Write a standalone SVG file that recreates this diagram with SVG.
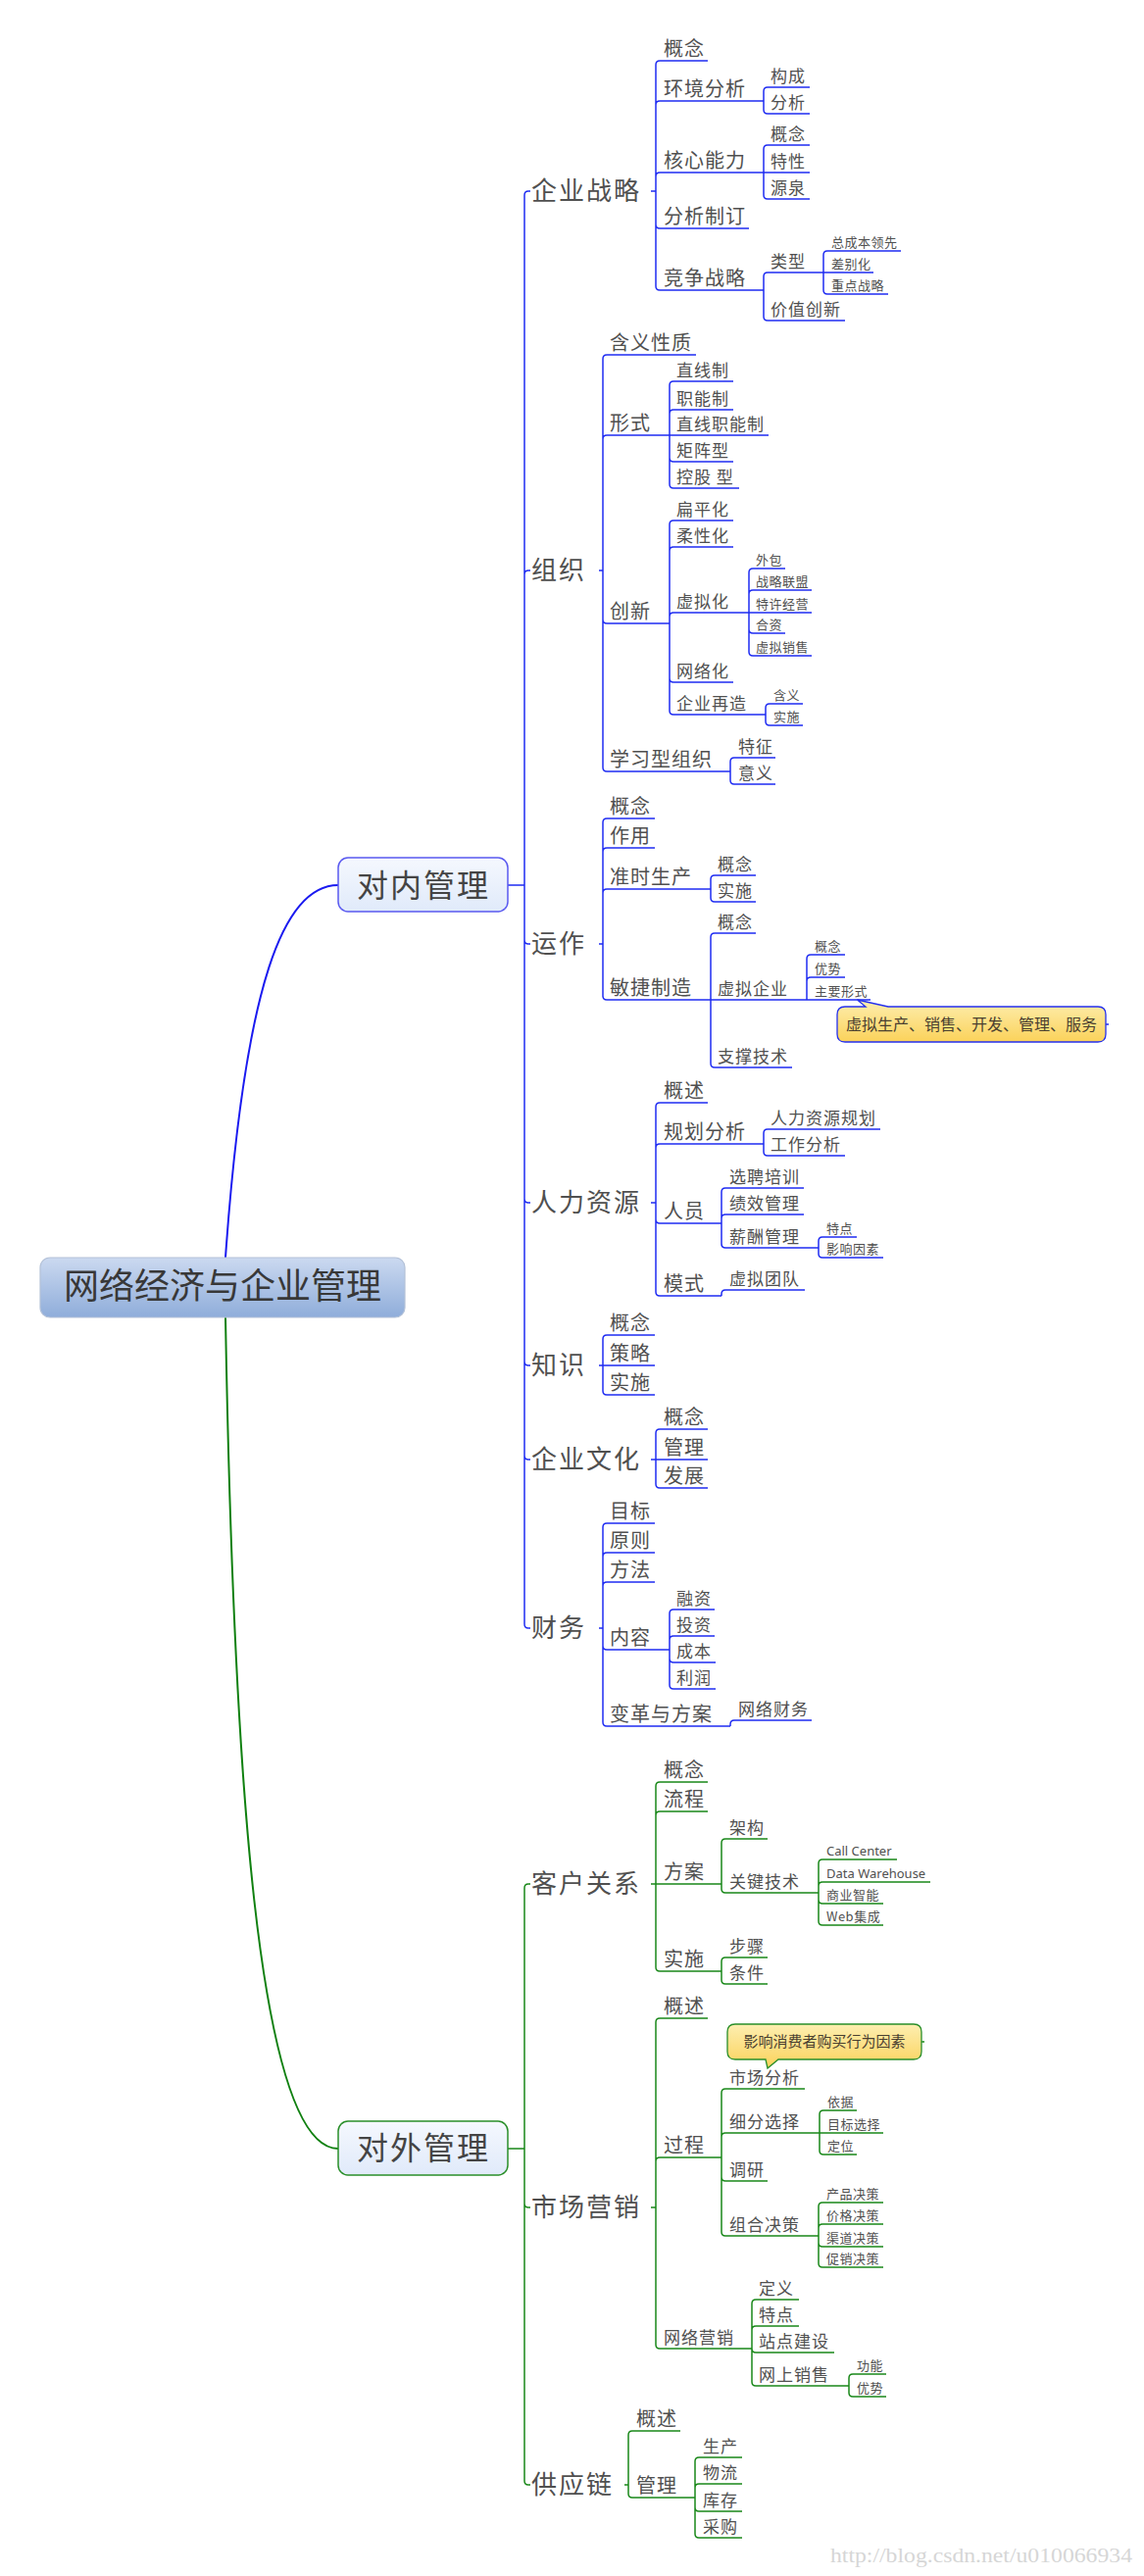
<svg xmlns="http://www.w3.org/2000/svg" width="1167" height="2628" viewBox="0 0 1167 2628">
<defs>
<linearGradient id="gRoot" x1="0" y1="0" x2="0" y2="1"><stop offset="0" stop-color="#cbd9f0"/><stop offset="1" stop-color="#8fadda"/></linearGradient>
<linearGradient id="gMain" x1="0" y1="0" x2="0" y2="1"><stop offset="0" stop-color="#f5f8fe"/><stop offset="1" stop-color="#e0eafa"/></linearGradient>
<linearGradient id="gNote" x1="0" y1="0" x2="0" y2="1"><stop offset="0" stop-color="#fdeeb0"/><stop offset="1" stop-color="#fbd25a"/></linearGradient>
<style>
.b{fill:none;stroke:#1f2cf2;stroke-width:1.5}
.g{fill:none;stroke:#1a881a;stroke-width:1.5}
.cb{fill:none;stroke:#1a1af0;stroke-width:2}
.cg{fill:none;stroke:#108010;stroke-width:2}
text{font-family:"Noto Sans CJK SC","Noto Sans",sans-serif;fill:#505050}
.t0{font-size:36px;fill:#383838;text-anchor:middle}
.tm{font-size:32px;letter-spacing:2px;fill:#444;text-anchor:middle}
.t1{font-size:26px;letter-spacing:2px}
.t2{font-size:20px;letter-spacing:1px}
.t3{font-size:17px;letter-spacing:1px}
.t4{font-size:13px;letter-spacing:0.5px}
.lat{font-family:"Noto Sans","Noto Sans CJK SC",sans-serif;letter-spacing:0}
.nt{font-size:16px;fill:#4a4030;text-anchor:middle}
</style>
</defs>
<rect width="1167" height="2628" fill="#fff"/>

<g id="connectors">
<path class="cb" d="M230 1283 C250 1000 290 903 345 903"/>
<path class="cg" d="M230 1344 C238 1800 262 2192 345 2192"/>
<path class="b" d="M518 903 H535 M535 903 V199 Q535 195 539 195 H541 M535 903 V586 Q535 582 539 582 H541 M535 903 V959 Q535 963 539 963 H541 M535 903 V1223 Q535 1227 539 1227 H541 M535 903 V1389 Q535 1393 539 1393 H541 M535 903 V1485 Q535 1489 539 1489 H541 M535 903 V1657 Q535 1661 539 1661 H541"/>
<path class="b" d="M664 195 H669 M669 195 V66 Q669 62 673 62 H722 M669 195 V107 Q669 103 673 103 H779 M669 195 V180 Q669 176 673 176 H779 M669 195 V229 Q669 233 673 233 H764 M669 195 V292 Q669 296 673 296 H779
M779 103 V93 Q779 89 783 89 H826 M779 103 V112 Q779 116 783 116 H826
M779 176 V152 Q779 148 783 148 H826 M779 176 H826 M779 176 V199 Q779 203 783 203 H826
M779 296 V282 Q779 278 783 278 H840 M779 296 V323 Q779 327 783 327 H862
M840 278 V260 Q840 256 844 256 H919 M840 278 H891 M840 278 V296 Q840 300 844 300 H906"/>
<path class="b" d="M611 582 H615 M615 582 V366 Q615 362 619 362 H710 M615 582 V448 Q615 444 619 444 H683 M615 582 V632 Q615 636 619 636 H683 M615 582 V783 Q615 787 619 787 H745
M683 444 V393 Q683 389 687 389 H748 M683 444 V422 Q683 418 687 418 H748 M683 444 H784 M683 444 V467 Q683 471 687 471 H748 M683 444 V494 Q683 498 687 498 H754
M683 636 V535 Q683 531 687 531 H748 M683 636 V562 Q683 558 687 558 H748 M683 636 V629 Q683 625 687 625 H764 M683 636 V692 Q683 696 687 696 H748 M683 636 V725 Q683 729 687 729 H781
M764 625 V584 Q764 580 768 580 H801 M764 625 V606 Q764 602 768 602 H828 M764 625 H828 M764 625 V642 Q764 646 768 646 H801 M764 625 V665 Q764 669 768 669 H828
M781 729 V722 Q781 718 785 718 H819 M781 729 V736 Q781 740 785 740 H819
M745 787 V777 Q745 773 749 773 H791 M745 787 V796 Q745 800 749 800 H791"/>
<path class="b" d="M611 963 H615 M615 963 V839 Q615 835 619 835 H668 M615 963 V869 Q615 865 619 865 H668 M615 963 V911 Q615 907 619 907 H725 M615 963 V1016 Q615 1020 619 1020 H725
M725 907 V897 Q725 893 729 893 H771 M725 907 V916 Q725 920 729 920 H771
M725 1020 V956 Q725 952 729 952 H771 M725 1020 H823 M725 1020 V1085 Q725 1089 729 1089 H808
M823 1020 V978 Q823 974 827 974 H862 M823 1020 V1001 Q823 997 827 997 H862 M823 1020 H888
M1128 1045 H1131"/>
<path class="b" d="M664 1227 H669 M669 1227 V1129 Q669 1125 673 1125 H722 M669 1227 V1171 Q669 1167 673 1167 H779 M669 1227 V1244 Q669 1248 673 1248 H736 M669 1227 V1318 Q669 1322 673 1322 H736
M779 1167 V1156 Q779 1152 783 1152 H898 M779 1167 V1175 Q779 1179 783 1179 H862
M736 1248 V1216 Q736 1212 740 1212 H820 M736 1248 V1243 Q736 1239 740 1239 H820 M736 1248 V1269 Q736 1273 740 1273 H835
M835 1273 V1266 Q835 1262 839 1262 H874 M835 1273 V1279 Q835 1283 839 1283 H901
M736 1322 V1320 Q736 1316 740 1316 H821"/>
<path class="b" d="M611 1393 H615 M615 1393 V1366 Q615 1362 619 1362 H668 M615 1393 H668 M615 1393 V1419 Q615 1423 619 1423 H668
M664 1489 H669 M669 1489 V1462 Q669 1458 673 1458 H722 M669 1489 H722 M669 1489 V1514 Q669 1518 673 1518 H722
M611 1661 H615 M615 1661 V1558 Q615 1554 619 1554 H668 M615 1661 V1588 Q615 1584 619 1584 H668 M615 1661 V1618 Q615 1614 619 1614 H668 M615 1661 V1679 Q615 1683 619 1683 H683 M615 1661 V1757 Q615 1761 619 1761 H745
M683 1683 V1646 Q683 1642 687 1642 H729 M683 1683 V1673 Q683 1669 687 1669 H729 M683 1683 V1692 Q683 1696 687 1696 H730 M683 1683 V1719 Q683 1723 687 1723 H730
M745 1761 V1759 Q745 1755 749 1755 H828"/>
<path class="g" d="M518 2192 H535 M535 2192 V1926 Q535 1922 539 1922 H541 M535 2192 V2248 Q535 2252 539 2252 H541 M535 2192 V2531 Q535 2535 539 2535 H541"/>
<path class="g" d="M664 1922 H669 M669 1922 V1822 Q669 1818 673 1818 H722 M669 1922 V1852 Q669 1848 673 1848 H722 M669 1922 H736 M669 1922 V2007 Q669 2011 673 2011 H736
M736 1922 V1880 Q736 1876 740 1876 H783 M736 1922 V1927 Q736 1931 740 1931 H835
M835 1931 V1901 Q835 1897 839 1897 H915 M835 1931 V1924 Q835 1920 839 1920 H949 M835 1931 V1938 Q835 1942 839 1942 H901 M835 1931 V1960 Q835 1964 839 1964 H901
M736 2011 V2001 Q736 1997 740 1997 H783 M736 2011 V2020 Q736 2024 740 2024 H783"/>
<path class="g" d="M664 2252 H669 M669 2252 V2063 Q669 2059 673 2059 H722 M669 2252 V2205 Q669 2201 673 2201 H736 M669 2252 V2392 Q669 2396 673 2396 H767
M736 2201 V2135 Q736 2131 740 2131 H821 M736 2201 V2180 Q736 2176 740 2176 H836 M736 2201 V2221 Q736 2225 740 2225 H783 M736 2201 V2277 Q736 2281 740 2281 H835
M836 2176 V2157 Q836 2153 840 2153 H874 M836 2176 H901 M836 2176 V2194 Q836 2198 840 2198 H874
M835 2281 V2251 Q835 2247 839 2247 H901 M835 2281 V2273 Q835 2269 839 2269 H901 M835 2281 V2288 Q835 2292 839 2292 H901 M835 2281 V2309 Q835 2313 839 2313 H901
M767 2396 V2350 Q767 2346 771 2346 H815 M767 2396 V2377 Q767 2373 771 2373 H815 M767 2396 Q767 2400 771 2400 H851 M767 2396 V2430 Q767 2434 771 2434 H866
M866 2434 V2426 Q866 2422 870 2422 H904 M866 2434 V2441 Q866 2445 870 2445 H904
M940 2083 H943"/>
<path class="g" d="M637 2535 H641 M641 2535 V2484 Q641 2480 645 2480 H694 M641 2535 V2544 Q641 2548 645 2548 H709
M709 2548 V2511 Q709 2507 713 2507 H757 M709 2548 V2538 Q709 2534 713 2534 H757 M709 2548 V2558 Q709 2562 713 2562 H757 M709 2548 V2585 Q709 2589 713 2589 H757"/>
</g>

<g id="root"><rect x="41" y="1283" width="372" height="61" rx="10" fill="url(#gRoot)" stroke="#b4c2d8" stroke-width="1.2"/><text class="t0" x="227" y="1325">网络经济与企业管理</text></g>
<g id="inner"><rect x="345" y="875" width="173" height="55" rx="10" fill="url(#gMain)" stroke="#5a5af0" stroke-width="1.5"/><text class="tm" x="432" y="915">对内管理</text></g>
<g id="outer"><rect x="345" y="2164" width="173" height="55" rx="10" fill="url(#gMain)" stroke="#2a8f2a" stroke-width="1.5"/><text class="tm" x="432" y="2203">对外管理</text></g>

<g id="n-strategy"><text class="t1" x="542" y="204">企业战略</text></g>
<g id="n-s1"><text class="t2" x="677" y="57">概念</text></g>
<g id="n-s2"><text class="t2" x="677" y="98">环境分析</text></g>
<g id="n-s2a"><text class="t3" x="786" y="84">构成</text></g>
<g id="n-s2b"><text class="t3" x="786" y="111">分析</text></g>
<g id="n-s3"><text class="t2" x="677" y="171">核心能力</text></g>
<g id="n-s3a"><text class="t3" x="786" y="143">概念</text></g>
<g id="n-s3b"><text class="t3" x="786" y="171">特性</text></g>
<g id="n-s3c"><text class="t3" x="786" y="198">源泉</text></g>
<g id="n-s4"><text class="t2" x="677" y="228">分析制订</text></g>
<g id="n-s5"><text class="t2" x="677" y="291">竞争战略</text></g>
<g id="n-s5a"><text class="t3" x="786" y="273">类型</text></g>
<g id="n-s5a1"><text class="t4" x="848" y="252">总成本领先</text></g>
<g id="n-s5a2"><text class="t4" x="848" y="274">差别化</text></g>
<g id="n-s5a3"><text class="t4" x="848" y="296">重点战略</text></g>
<g id="n-s5b"><text class="t3" x="786" y="322">价值创新</text></g>

<g id="n-org"><text class="t1" x="542" y="591">组织</text></g>
<g id="n-o1"><text class="t2" x="622" y="357">含义性质</text></g>
<g id="n-o2"><text class="t2" x="622" y="439">形式</text></g>
<g id="n-o2a"><text class="t3" x="690" y="384">直线制</text></g>
<g id="n-o2b"><text class="t3" x="690" y="413">职能制</text></g>
<g id="n-o2c"><text class="t3" x="690" y="439">直线职能制</text></g>
<g id="n-o2d"><text class="t3" x="690" y="466">矩阵型</text></g>
<g id="n-o2e"><text class="t3" x="690" y="493">控股 型</text></g>
<g id="n-o3"><text class="t2" x="622" y="631">创新</text></g>
<g id="n-o3a"><text class="t3" x="690" y="526">扁平化</text></g>
<g id="n-o3b"><text class="t3" x="690" y="553">柔性化</text></g>
<g id="n-o3c"><text class="t3" x="690" y="620">虚拟化</text></g>
<g id="n-o3c1"><text class="t4" x="771" y="576">外包</text></g>
<g id="n-o3c2"><text class="t4" x="771" y="598">战略联盟</text></g>
<g id="n-o3c3"><text class="t4" x="771" y="621">特许经营</text></g>
<g id="n-o3c4"><text class="t4" x="771" y="642">合资</text></g>
<g id="n-o3c5"><text class="t4" x="771" y="665">虚拟销售</text></g>
<g id="n-o3d"><text class="t3" x="690" y="691">网络化</text></g>
<g id="n-o3e"><text class="t3" x="690" y="724">企业再造</text></g>
<g id="n-o3e1"><text class="t4" x="789" y="714">含义</text></g>
<g id="n-o3e2"><text class="t4" x="789" y="736">实施</text></g>
<g id="n-o4"><text class="t2" x="622" y="782">学习型组织</text></g>
<g id="n-o4a"><text class="t3" x="753" y="768">特征</text></g>
<g id="n-o4b"><text class="t3" x="753" y="795">意义</text></g>

<g id="n-ops"><text class="t1" x="542" y="972">运作</text></g>
<g id="n-p1"><text class="t2" x="622" y="830">概念</text></g>
<g id="n-p2"><text class="t2" x="622" y="860">作用</text></g>
<g id="n-p3"><text class="t2" x="622" y="902">准时生产</text></g>
<g id="n-p3a"><text class="t3" x="732" y="888">概念</text></g>
<g id="n-p3b"><text class="t3" x="732" y="915">实施</text></g>
<g id="n-p4"><text class="t2" x="622" y="1015">敏捷制造</text></g>
<g id="n-p4a"><text class="t3" x="732" y="947">概念</text></g>
<g id="n-p4b"><text class="t3" x="732" y="1015">虚拟企业</text></g>
<g id="n-p4b1"><text class="t4" x="831" y="970">概念</text></g>
<g id="n-p4b2"><text class="t4" x="831" y="993">优势</text></g>
<g id="n-p4b3"><text class="t4" x="831" y="1016">主要形式</text></g>
<g id="n-note1"><path d="M862 1027 H883 L874.5 1020 L906 1027 H1120 Q1128 1027 1128 1035 V1055 Q1128 1063 1120 1063 H862 Q854 1063 854 1055 V1035 Q854 1027 862 1027 Z" fill="url(#gNote)" stroke="#2430ee" stroke-width="1.3"/><text class="nt" x="991" y="1051">虚拟生产、销售、开发、管理、服务</text></g>
<g id="n-p4c"><text class="t3" x="732" y="1084">支撑技术</text></g>

<g id="n-hr"><text class="t1" x="542" y="1236">人力资源</text></g>
<g id="n-h1"><text class="t2" x="677" y="1120">概述</text></g>
<g id="n-h2"><text class="t2" x="677" y="1162">规划分析</text></g>
<g id="n-h2a"><text class="t3" x="786" y="1147">人力资源规划</text></g>
<g id="n-h2b"><text class="t3" x="786" y="1174">工作分析</text></g>
<g id="n-h3"><text class="t2" x="677" y="1243">人员</text></g>
<g id="n-h3a"><text class="t3" x="744" y="1207">选聘培训</text></g>
<g id="n-h3b"><text class="t3" x="744" y="1234">绩效管理</text></g>
<g id="n-h3c"><text class="t3" x="744" y="1268">薪酬管理</text></g>
<g id="n-h3c1"><text class="t4" x="843" y="1258">特点</text></g>
<g id="n-h3c2"><text class="t4" x="843" y="1279">影响因素</text></g>
<g id="n-h4"><text class="t2" x="677" y="1317">模式</text></g>
<g id="n-h4a"><text class="t3" x="744" y="1311">虚拟团队</text></g>

<g id="n-know"><text class="t1" x="542" y="1402">知识</text></g>
<g id="n-k1"><text class="t2" x="622" y="1357">概念</text></g>
<g id="n-k2"><text class="t2" x="622" y="1388">策略</text></g>
<g id="n-k3"><text class="t2" x="622" y="1418">实施</text></g>

<g id="n-culture"><text class="t1" x="542" y="1498">企业文化</text></g>
<g id="n-c1"><text class="t2" x="677" y="1453">概念</text></g>
<g id="n-c2"><text class="t2" x="677" y="1484">管理</text></g>
<g id="n-c3"><text class="t2" x="677" y="1513">发展</text></g>

<g id="n-fin"><text class="t1" x="542" y="1670">财务</text></g>
<g id="n-f1"><text class="t2" x="622" y="1549">目标</text></g>
<g id="n-f2"><text class="t2" x="622" y="1579">原则</text></g>
<g id="n-f3"><text class="t2" x="622" y="1609">方法</text></g>
<g id="n-f4"><text class="t2" x="622" y="1678">内容</text></g>
<g id="n-f4a"><text class="t3" x="690" y="1637">融资</text></g>
<g id="n-f4b"><text class="t3" x="690" y="1664">投资</text></g>
<g id="n-f4c"><text class="t3" x="690" y="1691">成本</text></g>
<g id="n-f4d"><text class="t3" x="690" y="1718">利润</text></g>
<g id="n-f5"><text class="t2" x="622" y="1756">变革与方案</text></g>
<g id="n-f5a"><text class="t3" x="753" y="1750">网络财务</text></g>

<g id="n-crm"><text class="t1" x="542" y="1931">客户关系</text></g>
<g id="n-r1"><text class="t2" x="677" y="1813">概念</text></g>
<g id="n-r2"><text class="t2" x="677" y="1843">流程</text></g>
<g id="n-r3"><text class="t2" x="677" y="1917">方案</text></g>
<g id="n-r3a"><text class="t3" x="744" y="1871">架构</text></g>
<g id="n-r3b"><text class="t3" x="744" y="1926">关键技术</text></g>
<g id="n-r3b1"><text class="t4 lat" x="843" y="1893">Call Center</text></g>
<g id="n-r3b2"><text class="t4 lat" x="843" y="1916">Data Warehouse</text></g>
<g id="n-r3b3"><text class="t4" x="843" y="1938">商业智能</text></g>
<g id="n-r3b4"><text class="t4" x="843" y="1960">Web集成</text></g>
<g id="n-r4"><text class="t2" x="677" y="2006">实施</text></g>
<g id="n-r4a"><text class="t3" x="744" y="1992">步骤</text></g>
<g id="n-r4b"><text class="t3" x="744" y="2019">条件</text></g>

<g id="n-mkt"><text class="t1" x="542" y="2261">市场营销</text></g>
<g id="n-m1"><text class="t2" x="677" y="2054">概述</text></g>
<g id="n-m2"><text class="t2" x="677" y="2196">过程</text></g>
<g id="n-note2"><path d="M750 2065 H932 Q940 2065 940 2073 V2093 Q940 2101 932 2101 H794 L783 2110 L781 2101 H750 Q742 2101 742 2093 V2073 Q742 2065 750 2065 Z" fill="url(#gNote)" stroke="#2a8f2a" stroke-width="1.3"/><text class="nt" style="font-size:15px" x="841" y="2088">影响消费者购买行为因素</text></g>
<g id="n-m2a"><text class="t3" x="744" y="2126">市场分析</text></g>
<g id="n-m2b"><text class="t3" x="744" y="2171">细分选择</text></g>
<g id="n-m2b1"><text class="t4" x="844" y="2149">依据</text></g>
<g id="n-m2b2"><text class="t4" x="844" y="2172">目标选择</text></g>
<g id="n-m2b3"><text class="t4" x="844" y="2194">定位</text></g>
<g id="n-m2c"><text class="t3" x="744" y="2220">调研</text></g>
<g id="n-m2d"><text class="t3" x="744" y="2276">组合决策</text></g>
<g id="n-m2d1"><text class="t4" x="843" y="2243">产品决策</text></g>
<g id="n-m2d2"><text class="t4" x="843" y="2265">价格决策</text></g>
<g id="n-m2d3"><text class="t4" x="843" y="2288">渠道决策</text></g>
<g id="n-m2d4"><text class="t4" x="843" y="2309">促销决策</text></g>
<g id="n-m3"><text class="t3" x="677" y="2391">网络营销</text></g>
<g id="n-m3a"><text class="t3" x="774" y="2341">定义</text></g>
<g id="n-m3b"><text class="t3" x="774" y="2368">特点</text></g>
<g id="n-m3c"><text class="t3" x="774" y="2395">站点建设</text></g>
<g id="n-m3d"><text class="t3" x="774" y="2429">网上销售</text></g>
<g id="n-m3d1"><text class="t4" x="874" y="2418">功能</text></g>
<g id="n-m3d2"><text class="t4" x="874" y="2441">优势</text></g>

<g id="n-scm"><text class="t1" x="542" y="2544">供应链</text></g>
<g id="n-sc1"><text class="t2" x="649" y="2475">概述</text></g>
<g id="n-sc2"><text class="t2" x="649" y="2543">管理</text></g>
<g id="n-sc2a"><text class="t3" x="717" y="2502">生产</text></g>
<g id="n-sc2b"><text class="t3" x="717" y="2529">物流</text></g>
<g id="n-sc2c"><text class="t3" x="717" y="2557">库存</text></g>
<g id="n-sc2d"><text class="t3" x="717" y="2584">采购</text></g>

<text x="847" y="2614" style="font-family:'Liberation Serif',serif;font-size:20px;fill:#d6d6d6" textLength="308" lengthAdjust="spacingAndGlyphs">http://blog.csdn.net/u010066934</text>
</svg>
